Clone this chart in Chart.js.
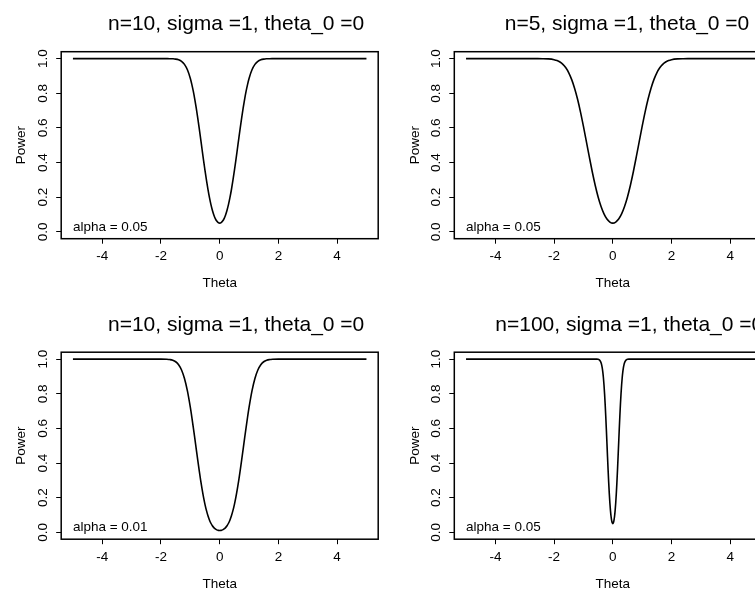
<!DOCTYPE html>
<html><head><meta charset="utf-8">
<script src="https://cdn.jsdelivr.net/npm/chart.js@4.4.1/dist/chart.umd.min.js"></script>
<style>
html,body{margin:0;padding:0;background:#fff;overflow:hidden;width:755px;height:589px;position:relative;}
canvas{position:absolute;left:0;top:0;}
</style></head><body>
<canvas id="c1" width="800" height="650"></canvas>
<canvas id="c2" width="800" height="650"></canvas>
<canvas id="c3" width="800" height="650"></canvas>
<canvas id="c4" width="800" height="650"></canvas>
<script>
// ---- data ----
const thetaN10 = [-5,-4,-3,-2.5,-2,-1.8,-1.7,-1.6,-1.5,-1.4,-1.3,-1.2,-1.1,-1,-0.95,-0.9,-0.85,-0.8,-0.75,-0.7,-0.65,-0.6,-0.55,-0.5,-0.45,-0.4,-0.35,-0.3,-0.25,-0.2,-0.15,-0.1,-0.05,
  0,0.05,0.1,0.15,0.2,0.25,0.3,0.35,0.4,0.45,0.5,0.55,0.6,0.65,0.7,0.75,0.8,0.85,0.9,0.95,1,1.1,1.2,1.3,1.4,1.5,1.6,1.7,1.8,2,2.5,3,4,5];
const powerN10Alpha05 = [1,1,1,1,1,0.9999,0.9997,0.999,0.9973,0.9931,0.9841,0.9666,0.9354,0.8853,0.8515,0.812,0.7664,0.7154,0.6596,0.6,0.538,0.4751,0.4128,0.3527,0.2962,0.2442,0.1982,0.158,0.1244,0.0972,0.0763,0.0618,0.053,
  0.05,0.053,0.0618,0.0763,0.0972,0.1244,0.158,0.1982,0.2442,0.2962,0.3527,0.4128,0.4751,0.538,0.6,0.6596,0.7154,0.7664,0.812,0.8515,0.8853,0.9354,0.9666,0.9841,0.9931,0.9973,0.999,0.9997,0.9999,1,1,1,1,1];
const powerN10Alpha01 = [1,1,1,1,0.9999,0.9991,0.9974,0.9935,0.9848,0.9678,0.9374,0.8884,0.8166,0.7211,0.6657,0.6064,0.5446,0.4817,0.4191,0.3588,0.3016,0.249,0.2015,0.16,0.1248,0.0952,0.0712,0.0522,0.0376,0.0269,0.019,0.0139,0.011,
  0.01,0.011,0.0139,0.019,0.0269,0.0376,0.0522,0.0712,0.0952,0.1248,0.16,0.2015,0.249,0.3016,0.3588,0.4191,0.4817,0.5446,0.6064,0.6657,0.7211,0.8166,0.8884,0.9374,0.9678,0.9848,0.9935,0.9974,0.9991,0.9999,1,1,1,1];
const thetaN5 = [-5,-4,-3,-2.6,-2.4,-2.2,-2,-1.9,-1.8,-1.7,-1.6,-1.5,-1.4,-1.3,-1.2,-1.1,-1,-0.9,-0.8,-0.7,-0.6,-0.5,-0.4,-0.3,-0.2,-0.1,
  0,0.1,0.2,0.3,0.4,0.5,0.6,0.7,0.8,0.9,1,1.1,1.2,1.3,1.4,1.5,1.6,1.7,1.8,1.9,2,2.2,2.4,2.6,3,4,5];
const powerN5Alpha05 = [1,1,1,0.9999,0.9997,0.9985,0.994,0.9889,0.9804,0.9671,0.947,0.9183,0.8788,0.8278,0.765,0.6914,0.6087,0.5209,0.4322,0.3468,0.2689,0.2012,0.1458,0.1031,0.0733,0.056,
  0.05,0.056,0.0733,0.1031,0.1458,0.2012,0.2689,0.3468,0.4322,0.5209,0.6087,0.6914,0.765,0.8278,0.8788,0.9183,0.947,0.9671,0.9804,0.9889,0.994,0.9985,0.9997,0.9999,1,1,1];
const thetaN100 = [-5,-4,-3,-2,-1,-0.6,-0.55,-0.5,-0.48,-0.46,-0.44,-0.42,-0.4,-0.38,-0.36,-0.34,-0.32,-0.3,-0.28,-0.26,-0.24,-0.22,-0.2,-0.18,-0.16,-0.14,-0.12,-0.1,-0.08,-0.06,-0.04,-0.02,
  0,0.02,0.04,0.06,0.08,0.1,0.12,0.14,0.16,0.18,0.2,0.22,0.24,0.26,0.28,0.3,0.32,0.34,0.36,0.38,0.4,0.42,0.44,0.46,0.48,0.5,0.55,0.6,1,2,3,4,5];
const powerN100Alpha05 = [1,1,1,1,1,1,0.9998,0.9988,0.9977,0.9959,0.9927,0.9875,0.9793,0.9671,0.9495,0.9251,0.8925,0.8508,0.7995,0.7389,0.67,0.5948,0.516,0.4366,0.3598,0.2884,0.2247,0.1704,0.1262,0.0924,0.0688,0.0549,
  0.05,0.0549,0.0688,0.0924,0.1262,0.1704,0.2247,0.2884,0.3598,0.4366,0.516,0.5948,0.67,0.7389,0.7995,0.8508,0.8925,0.9251,0.9495,0.9671,0.9793,0.9875,0.9927,0.9959,0.9977,0.9988,0.9998,1,1,1,1,1,1];

const xTickValues = [-4,-2,0,2,4];
const xTickLabels = ['-4','-2','0','2','4'];
const yTickValues = [0,0.2,0.4,0.6,0.8,1];
const yTickLabels = ['0.0','0.2','0.4','0.6','0.8','1.0'];
const panelTitles = ['n=10, sigma =1, theta_0 =0','n=5, sigma =1, theta_0 =0','n=10, sigma =1, theta_0 =0','n=100, sigma =1, theta_0 =0'];
const alphaLabels = ['alpha = 0.05','alpha = 0.05','alpha = 0.01','alpha = 0.05'];
const xAxisTitle = 'Theta';
const yAxisTitle = 'Power';

// ---- layout ----
const FONT = '"Liberation Sans", Arial, Helvetica, sans-serif';
const CW = 800, CH = 650, PW = 317, PH = 187, YAXW = 47.6, XAXH = 53;
const panels = [
  {id:'c1', theta:thetaN10,  power:powerN10Alpha05,  k:0, left:61.2,  top:51.7,  titleX:108,   titleY:30},
  {id:'c2', theta:thetaN5,   power:powerN5Alpha05,   k:1, left:454.3, top:51.7,  titleX:504.7, titleY:30},
  {id:'c3', theta:thetaN10,  power:powerN10Alpha01,  k:2, left:61.2,  top:352.2, titleX:108,   titleY:330.5},
  {id:'c4', theta:thetaN100, power:powerN100Alpha05, k:3, left:454.3, top:352.2, titleX:495.3, titleY:330.5}
];

const decor = {
  id: 'decor',
  afterDraw(chart, args, opts) {
    const {ctx, chartArea: a, scales} = chart;
    ctx.save();
    ctx.strokeStyle = '#000';
    ctx.lineWidth = 1.5;
    ctx.strokeRect(a.left, a.top, a.right - a.left, a.bottom - a.top);
    ctx.fillStyle = '#000';
    ctx.textAlign = 'left';
    ctx.textBaseline = 'alphabetic';
    ctx.font = '21px ' + FONT;
    ctx.fillText(opts.title, opts.titleX, opts.titleY);
    ctx.font = '13.5px ' + FONT;
    ctx.fillText(opts.alpha, scales.x.getPixelForValue(-5), scales.y.getPixelForValue(0) - 1);
    ctx.restore();
  }
};

panels.forEach(p => {
  const tickFont = {family: FONT, size: 13.5};
  new Chart(document.getElementById(p.id), {
    type: 'line',
    data: {
      datasets: [{
        data: p.theta.map((t, i) => ({x: t, y: p.power[i]})),
        borderColor: '#000',
        borderWidth: 1.6,
        pointRadius: 0,
        fill: false,
        cubicInterpolationMode: 'monotone'
      }]
    },
    options: {
      responsive: false,
      animation: false,
      events: [],
      layout: {
        padding: {
          left: p.left - YAXW,
          right: CW - (p.left + PW),
          top: p.top,
          bottom: CH - (p.top + PH) - XAXH
        }
      },
      plugins: {
        legend: {display: false},
        tooltip: {enabled: false},
        decor: {title: panelTitles[p.k], alpha: alphaLabels[p.k], titleX: p.titleX, titleY: p.titleY}
      },
      scales: {
        x: {
          type: 'linear', min: -5.4, max: 5.4,
          afterBuildTicks: s => { s.ticks = xTickValues.map(v => ({value: v})); },
          afterFit: s => { s.height = XAXH; },
          grid: {drawOnChartArea: false, drawTicks: true, tickLength: 5, color: '#000', lineWidth: 1},
          border: {display: false},
          ticks: {font: tickFont, color: '#000', padding: 4.9, maxRotation: 0, minRotation: 0, autoSkip: false,
                  callback: (v, i) => xTickLabels[i]},
          title: {display: true, text: xAxisTitle, font: tickFont, color: '#000', padding: 0}
        },
        y: {
          type: 'linear', min: -0.04, max: 1.04,
          afterBuildTicks: s => { s.ticks = yTickValues.map(v => ({value: v})); },
          afterFit: s => { s.width = YAXW; },
          grid: {drawOnChartArea: false, drawTicks: true, tickLength: 5, color: '#000', lineWidth: 1},
          border: {display: false},
          ticks: {font: tickFont, color: '#000', padding: 3.5, minRotation: 90, maxRotation: 90, crossAlign: 'center', autoSkip: false,
                  callback: (v, i) => yTickLabels[i]},
          title: {display: true, text: yAxisTitle, font: tickFont, color: '#000', padding: 0}
        }
      }
    },
    plugins: [decor]
  });
});
</script>
</body></html>
